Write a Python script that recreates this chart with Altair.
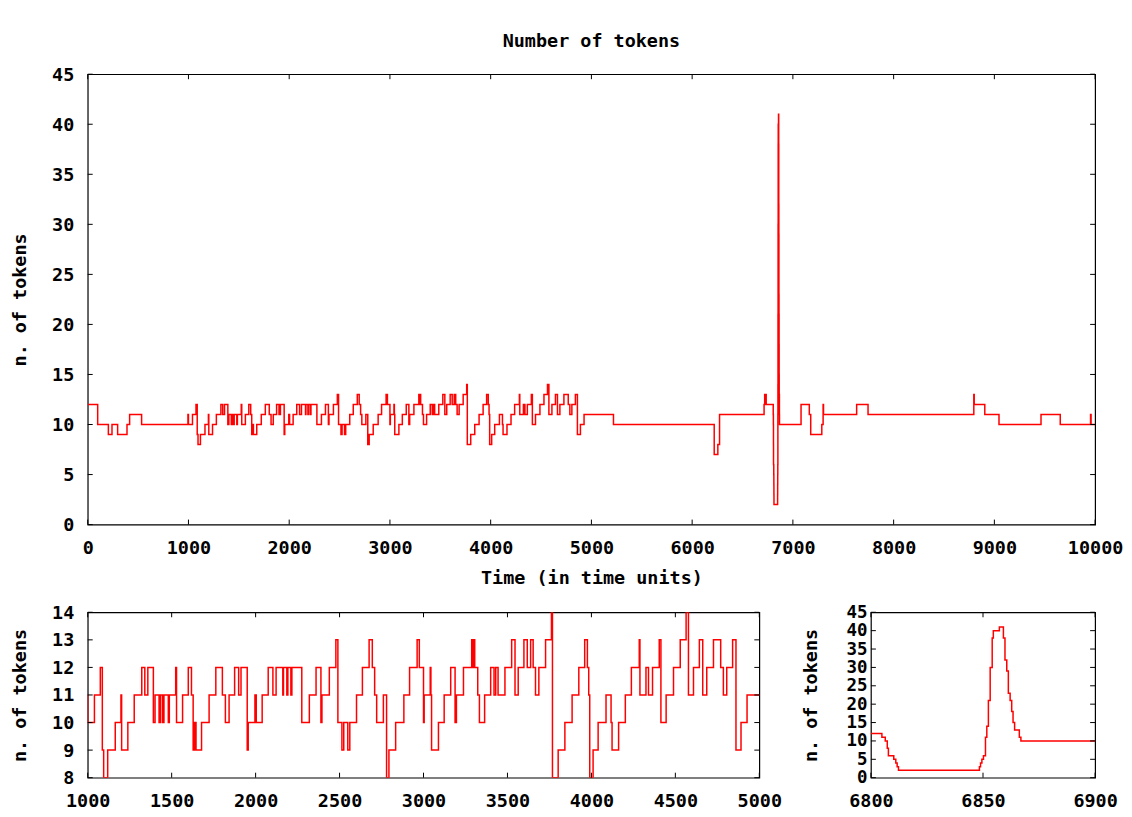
import altair as alt
import pandas as pd

# change points of the step series (time, number of tokens)
times = [
    0, 99, 205, 241, 297, 390, 416, 535,
    995, 1000, 1040, 1075, 1087, 1095, 1119, 1164, 1198, 1202, 1239, 1277, 1322, 1340, 1358,
    1391, 1401, 1425, 1433, 1445, 1454, 1480, 1486, 1524, 1529, 1565, 1599, 1618, 1628, 1636,
    1645, 1678, 1723, 1763, 1802, 1820, 1842, 1875, 1899, 1913, 1950, 1956, 1996, 2004, 2039,
    2075, 2103, 2122, 2162, 2166, 2186, 2192, 2210, 2216, 2275, 2320, 2360, 2389, 2395, 2439,
    2478, 2490, 2514, 2525, 2549, 2561, 2601, 2636, 2676, 2695, 2709, 2721, 2761, 2780, 2794,
    2834, 2883, 2917, 2962, 2975,
    3000, 3004, 3040, 3044, 3048, 3089, 3123, 3162, 3188, 3196, 3238, 3287, 3293, 3301, 3305,
    3323, 3333, 3364, 3400, 3420, 3430, 3444, 3485, 3525, 3545, 3564, 3598, 3618, 3638, 3653,
    3667, 3687, 3727, 3762, 3768, 3802, 3842, 3885, 3925, 3960, 3976, 3984, 3990, 4010, 4040,
    4087, 4117, 4123, 4162, 4202, 4238, 4285, 4289, 4325, 4340, 4364, 4404, 4414, 4445, 4489,
    4529, 4564, 4578, 4608, 4643, 4663, 4687, 4727, 4770, 4786, 4806, 4841, 4861, 4891, 4927,
    5219, 6219, 6255, 6272, 6714, 6720, 6735,
    6804.9, 6806.4, 6807.3, 6807.8, 6810.2, 6811.1, 6811.7, 6812.3, 6848.4, 6848.9, 6849.5,
    6850.2, 6851.1, 6851.7, 6852.4, 6853.2, 6854.1, 6854.6, 6857.3, 6859.1, 6859.8, 6860.6,
    6861.3, 6862.1, 6862.8, 6863.4, 6864.1, 6866.2, 6866.9,
    7081, 7163, 7177, 7287, 7300, 7304, 7633, 7746, 8796, 8800, 8905, 9046, 9463, 9654, 9955,
    9960, 10000,
]
tokens = [
    12, 10, 9, 10, 9, 10, 11, 10,
    11, 10, 11, 12, 9, 8, 9, 10, 11, 9, 10, 11, 12, 11, 12,
    10, 11, 10, 11, 10, 11, 10, 11, 12, 10, 11, 12, 11, 9, 10,
    9, 10, 11, 12, 11, 10, 11, 12, 11, 12, 9, 10, 11, 10, 11,
    12, 11, 12, 11, 12, 11, 12, 11, 12, 10, 11, 12, 10, 11, 12,
    13, 10, 9, 10, 9, 10, 11, 12, 13, 12, 11, 10, 11, 8, 9,
    10, 11, 12, 13, 12,
    10, 11, 12, 11, 9, 10, 11, 12, 10, 11, 12, 13, 12, 13, 12,
    11, 10, 11, 12, 11, 12, 11, 12, 13, 11, 12, 13, 12, 13, 12,
    11, 12, 13, 14, 8, 9, 10, 11, 12, 13, 12, 11, 8, 9, 10,
    11, 10, 9, 10, 11, 12, 13, 11, 12, 11, 12, 13, 10, 11, 12,
    13, 14, 11, 12, 13, 11, 12, 13, 12, 11, 12, 13, 9, 10, 11,
    10, 7, 8, 11, 12, 13, 12,
    11, 10, 8, 6, 5, 4, 3, 2, 3, 4, 5,
    6, 11, 14, 21, 30, 38, 40, 41, 38, 32, 29,
    23, 21, 18, 15, 13, 11, 10,
    12, 11, 9, 10, 12, 11, 12, 11, 13, 12, 11, 10, 11, 10, 11,
    10, 10,
]

main_x_ticks = [0, 1000, 2000, 3000, 4000, 5000, 6000, 7000, 8000, 9000, 10000]
main_y_ticks = [0, 5, 10, 15, 20, 25, 30, 35, 40, 45]
left_x_ticks = [1000, 1500, 2000, 2500, 3000, 3500, 4000, 4500, 5000]
left_y_ticks = [8, 9, 10, 11, 12, 13, 14]
right_x_ticks = [6800, 6850, 6900]
right_y_ticks = [0, 5, 10, 15, 20, 25, 30, 35, 40, 45]

df = pd.DataFrame({"t": times, "v": tokens})

FONT = "DejaVu Sans Mono"
FS = 18.5
TICK = 5


def panel(xdom, ydom, xticks, yticks, w, h, xtitle=None, ylab_pad=14, ytitle_pad=22,
          ylab_size=FS, title=None):
    xs = alt.Scale(domain=xdom, nice=False, zero=False)
    ys = alt.Scale(domain=ydom, nice=False, zero=False)
    xaxis = alt.Axis(values=xticks, format="d", title=xtitle, labelFlush=False,
                     labelOverlap=False, labelPadding=14, titlePadding=12)
    yaxis = alt.Axis(values=yticks, format="d", title="n. of tokens", labelFlush=False,
                     labelOverlap=False, labelPadding=ylab_pad, titlePadding=ytitle_pad,
                     labelFontSize=ylab_size)
    line = alt.Chart(df).mark_line(
        color="#ff0000", strokeWidth=1.5, interpolate="step-after", clip=True
    ).encode(
        x=alt.X("t:Q", scale=xs, axis=xaxis),
        y=alt.Y("v:Q", scale=ys, axis=yaxis),
    )
    xt = pd.DataFrame({"t": xticks})
    yt = pd.DataFrame({"v": yticks})
    xb = alt.Chart(xt).mark_rule(color="black", strokeWidth=1).encode(
        x=alt.X("t:Q", scale=xs, axis=xaxis), y=alt.value(h), y2=alt.value(h - TICK))
    xtop = alt.Chart(xt).mark_rule(color="black", strokeWidth=1).encode(
        x=alt.X("t:Q", scale=xs, axis=xaxis), y=alt.value(0), y2=alt.value(TICK))
    yl = alt.Chart(yt).mark_rule(color="black", strokeWidth=1).encode(
        y=alt.Y("v:Q", scale=ys, axis=yaxis), x=alt.value(0), x2=alt.value(TICK))
    yr = alt.Chart(yt).mark_rule(color="black", strokeWidth=1).encode(
        y=alt.Y("v:Q", scale=ys, axis=yaxis), x=alt.value(w), x2=alt.value(w - TICK))
    props = dict(width=w, height=h)
    if title:
        props["title"] = alt.TitleParams(title, offset=15, anchor="middle")
    return alt.layer(line, xb, xtop, yl, yr).properties(**props)


main = panel([0, 10000], [0, 45], main_x_ticks, main_y_ticks, 1011, 452,
             xtitle="Time (in time units)", title="Number of tokens")
left = panel([1000, 5000], [8, 14], left_x_ticks, left_y_ticks, 674, 166)
right = panel([6800, 6900], [0, 45], right_x_ticks, right_y_ticks, 225, 166,
              ylab_pad=4, ytitle_pad=26, ylab_size=17.5)

chart = alt.vconcat(
    main,
    alt.hconcat(left, right, spacing=112, bounds="flush"),
    spacing=88,
    bounds="flush",
).properties(
    padding={"left": 2, "top": 21, "right": 0, "bottom": 0},
    background="white",
).configure_axis(
    labelFont=FONT, labelFontSize=FS, labelFontWeight="bold", labelColor="black",
    titleFont=FONT, titleFontSize=FS, titleFontWeight="bold", titleColor="black",
    domain=False, ticks=False, tickSize=0, grid=False,
).configure_view(
    stroke="black", strokeWidth=1.2
).configure_title(
    font=FONT, fontSize=FS, fontWeight="bold", color="black"
)

chart.save("out.html", embed_options={"renderer": "svg", "actions": False})
